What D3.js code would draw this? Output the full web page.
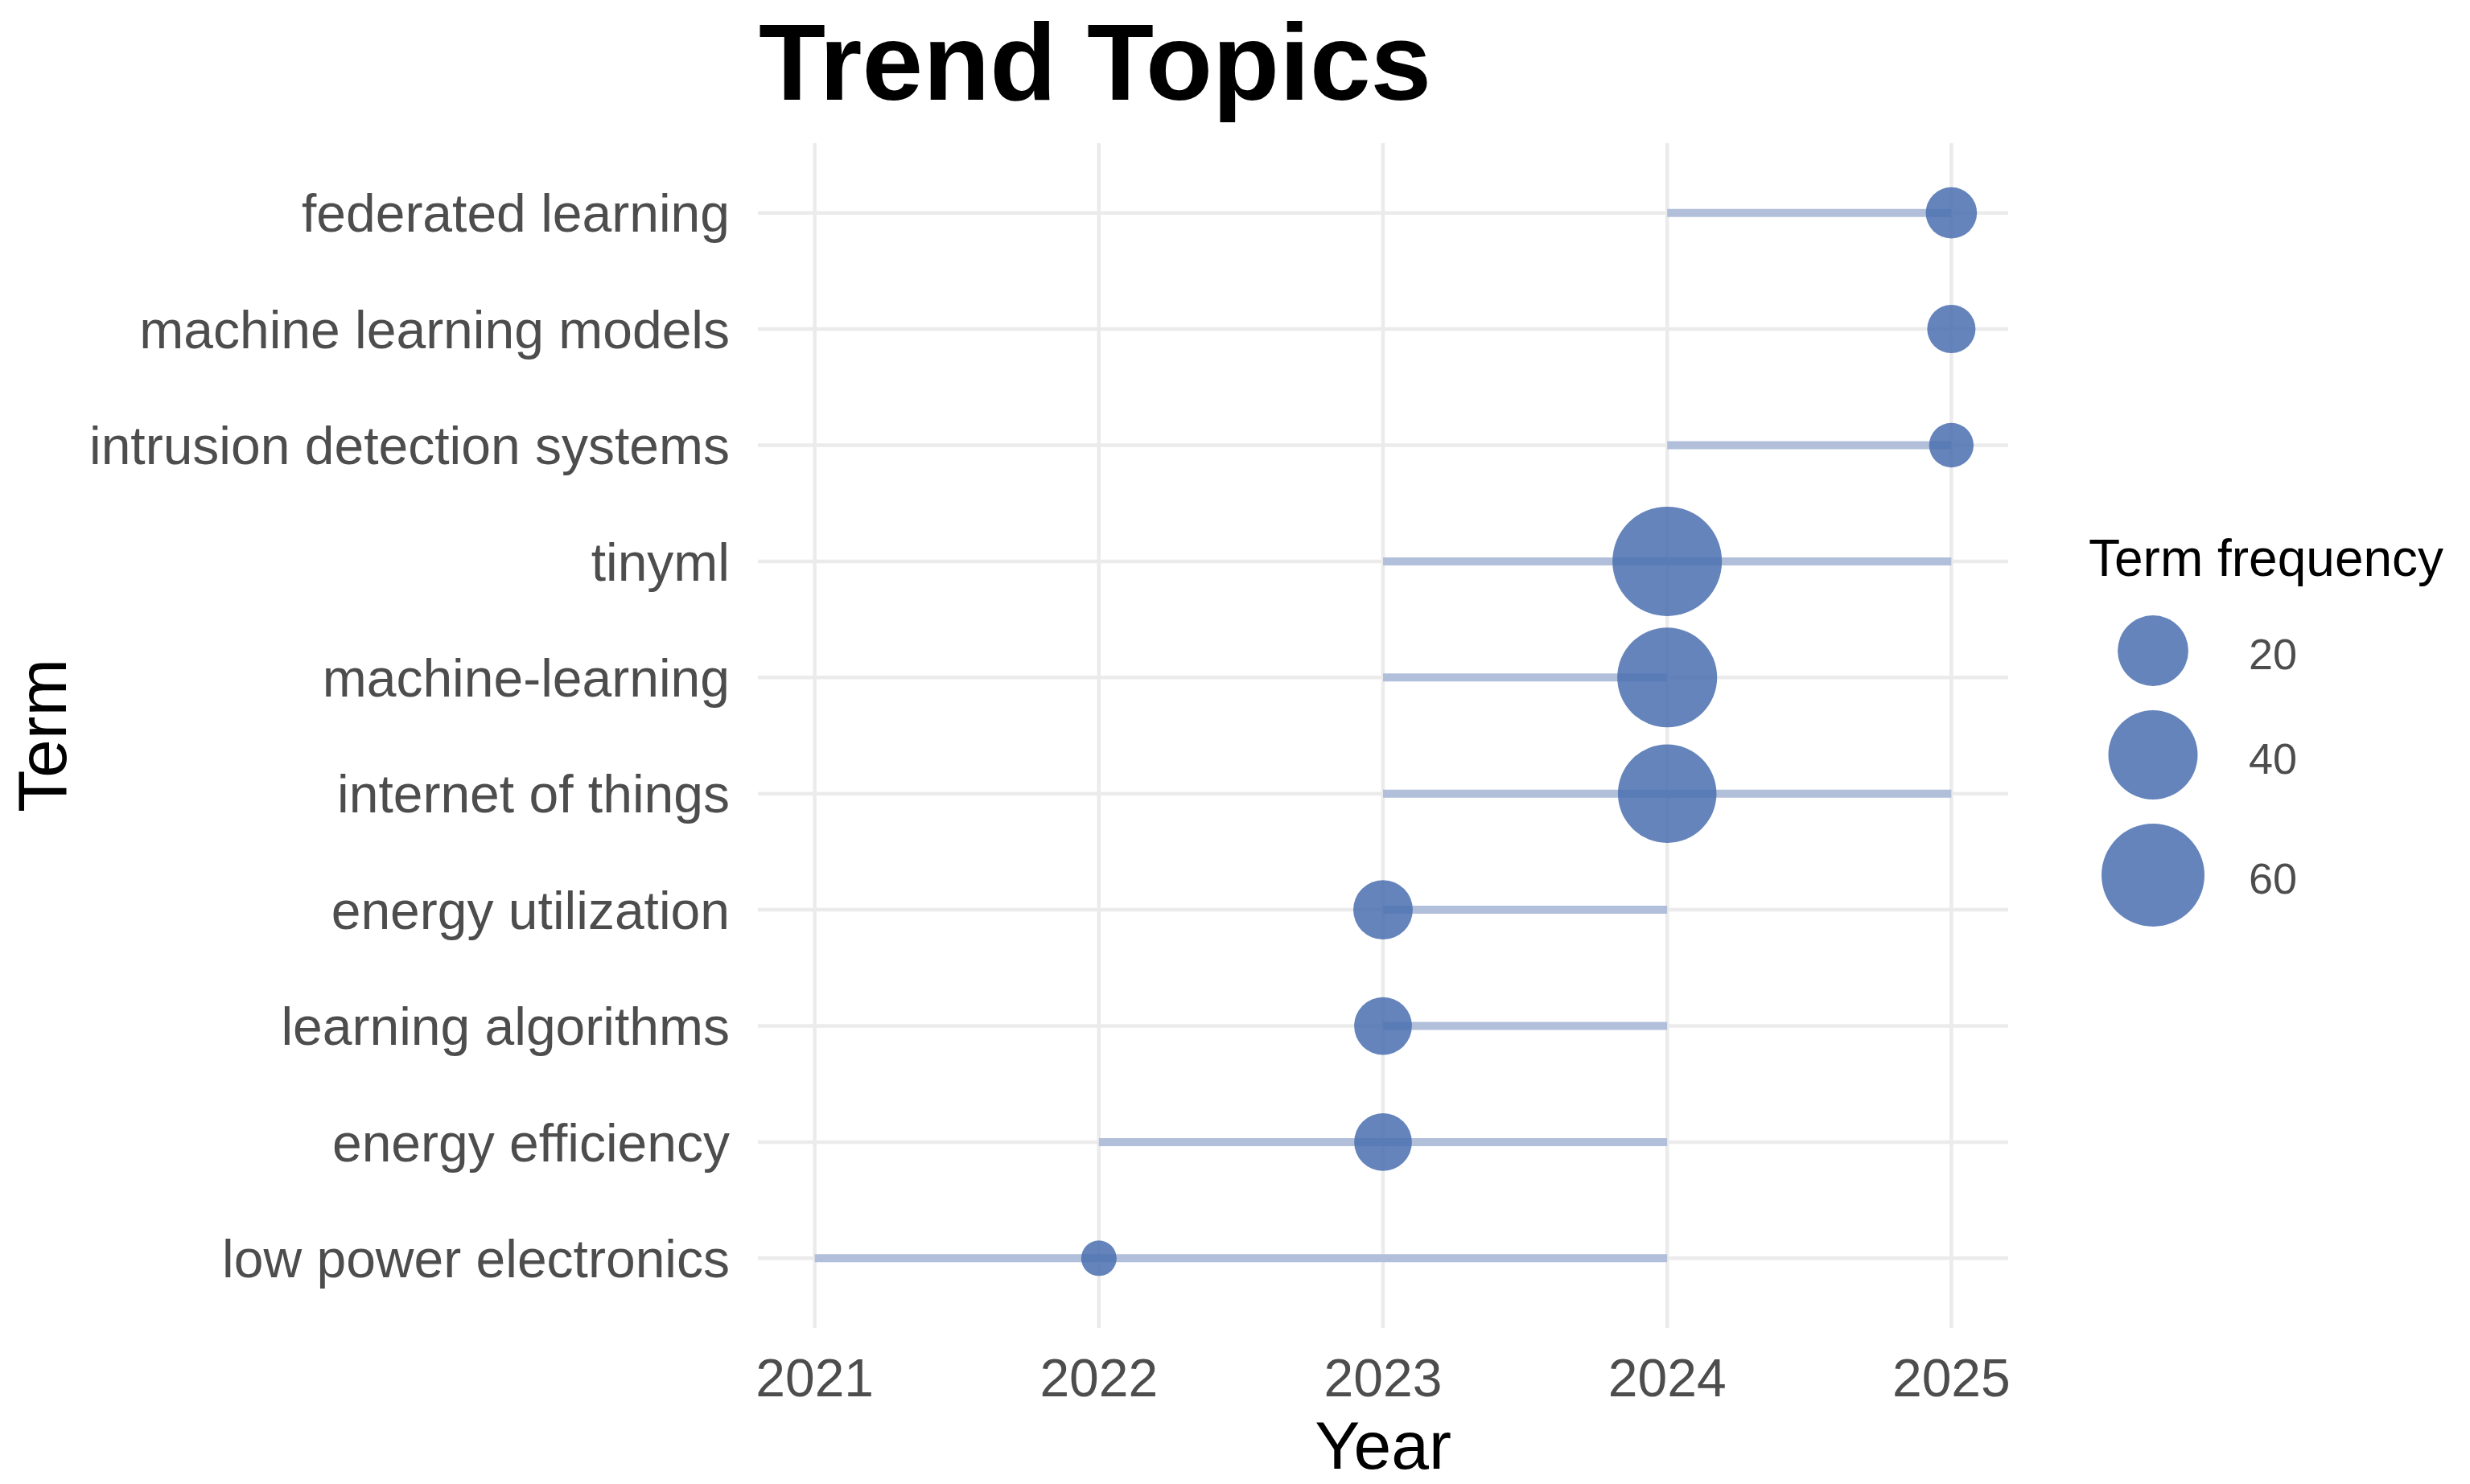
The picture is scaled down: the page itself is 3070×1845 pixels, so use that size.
<!DOCTYPE html>
<meta charset="utf-8">
<style>
body { margin: 0; background: #fff; }
svg { display: block; background: #fff; }
text { font-family: "Liberation Sans", Arial, sans-serif; }
.grid line { stroke: #ebebeb; stroke-width: 4.5px; }
.axis-text { fill: #4d4d4d; font-size: 66px; }
.seg { stroke: #b1bfda; stroke-width: 10px; }
.pt, .key { fill: #4a6faf; fill-opacity: 0.85; }
</style>
<body>
<div id="chart"></div>
<script src="https://cdn.jsdelivr.net/npm/d3@7"></script>
<script>
// terms, top to bottom
var terms = ["federated learning", "machine learning models", "intrusion detection systems",
  "tinyml", "machine-learning", "internet of things", "energy utilization",
  "learning algorithms", "energy efficiency", "low power electronics"];
var yearQ1  = [2024, 2025, 2024, 2023, 2023, 2023, 2023, 2023, 2022, 2021];
var yearMed = [2025, 2025, 2025, 2024, 2024, 2024, 2023, 2023, 2023, 2022];
var yearQ3  = [2025, 2025, 2025, 2025, 2024, 2025, 2024, 2024, 2024, 2024];
var freq    = [8, 7, 6, 71, 55, 53, 12, 11, 11, 5];
var yearTicks = [2021, 2022, 2023, 2024, 2025];
var legendValues = [20, 40, 60];

var data = terms.map(function(t, i) {
  return {term: t, q1: yearQ1[i], med: yearMed[i], q3: yearQ3[i], freq: freq[i]};
});

var W = 3070, H = 1845;
var panel = {left: 942, right: 2496, top: 178, bottom: 1651};

var svg = d3.select("#chart").append("svg")
  .attr("width", W).attr("height", H);

var x = d3.scaleLinear().domain([2020.8, 2025.2]).range([panel.left, panel.right]);
var y = d3.scalePoint().domain(terms).range([panel.top, panel.bottom]).padding(0.6);

// ggplot-like area scale: radius grows with sqrt of rescaled value
var t = d3.scaleLinear().domain(d3.extent(freq)).range([0, 1]);
var rMin = 22, rMax = 68;
function radius(v) { return rMin + (rMax - rMin) * Math.sqrt(Math.max(0, t(v))); }

// grid
var grid = svg.append("g").attr("class", "grid");
grid.selectAll(".h").data(terms).enter().append("line")
  .attr("x1", panel.left).attr("x2", panel.right)
  .attr("y1", function(d) { return y(d); }).attr("y2", function(d) { return y(d); });
grid.selectAll(".v").data(yearTicks).enter().append("line")
  .attr("y1", panel.top).attr("y2", panel.bottom)
  .attr("x1", function(d) { return x(d); }).attr("x2", function(d) { return x(d); });

// segments q1..q3
svg.append("g").selectAll("line").data(data).enter().append("line")
  .attr("class", "seg")
  .attr("x1", function(d) { return x(d.q1); })
  .attr("x2", function(d) { return x(d.q3); })
  .attr("y1", function(d) { return y(d.term); })
  .attr("y2", function(d) { return y(d.term); });

// points at median year
svg.append("g").selectAll("circle").data(data).enter().append("circle")
  .attr("class", "pt")
  .attr("cx", function(d) { return x(d.med); })
  .attr("cy", function(d) { return y(d.term); })
  .attr("r", function(d) { return radius(d.freq); });

// y axis labels
svg.append("g").selectAll("text").data(terms).enter().append("text")
  .attr("class", "axis-text")
  .attr("x", panel.left - 35)
  .attr("y", function(d) { return y(d); })
  .attr("dy", "0.36em")
  .attr("text-anchor", "end")
  .text(function(d) { return d; });

// x axis labels
svg.append("g").selectAll("text").data(yearTicks).enter().append("text")
  .attr("class", "axis-text")
  .attr("x", function(d) { return x(d); })
  .attr("y", 1736)
  .attr("text-anchor", "middle")
  .text(function(d) { return d; });

// titles
svg.append("text")
  .attr("x", panel.left + 1).attr("y", 124)
  .style("font-size", "136px").style("font-weight", "bold").style("fill", "#000")
  .text("Trend Topics");

svg.append("text")
  .attr("x", (panel.left + panel.right) / 2).attr("y", 1826)
  .attr("text-anchor", "middle")
  .style("font-size", "84px").style("fill", "#000")
  .text("Year");

svg.append("text")
  .attr("transform", "translate(82," + ((panel.top + panel.bottom) / 2) + ") rotate(-90)")
  .attr("text-anchor", "middle")
  .style("font-size", "86px").style("fill", "#000")
  .text("Term");

// legend
var lg = svg.append("g");
lg.append("text")
  .attr("x", 2596).attr("y", 716)
  .style("font-size", "64px").style("fill", "#000")
  .text("Term frequency");

var cy = 809 - radius(legendValues[0]), gap = 30, keys = [];
legendValues.forEach(function(v, i) {
  var r = radius(v);
  cy += r;
  keys.push({v: v, r: r, cy: cy});
  cy += r + gap;
});

lg.selectAll("circle").data(keys).enter().append("circle")
  .attr("class", "key")
  .attr("cx", 2676)
  .attr("cy", function(d) { return d.cy; })
  .attr("r", function(d) { return d.r; });

lg.selectAll(".lab").data(keys).enter().append("text")
  .attr("class", "axis-text")
  .style("font-size", "54px")
  .attr("x", 2795)
  .attr("y", function(d) { return d.cy + 4; })
  .attr("dy", "0.36em")
  .text(function(d) { return d.v; });
</script>
</body>
